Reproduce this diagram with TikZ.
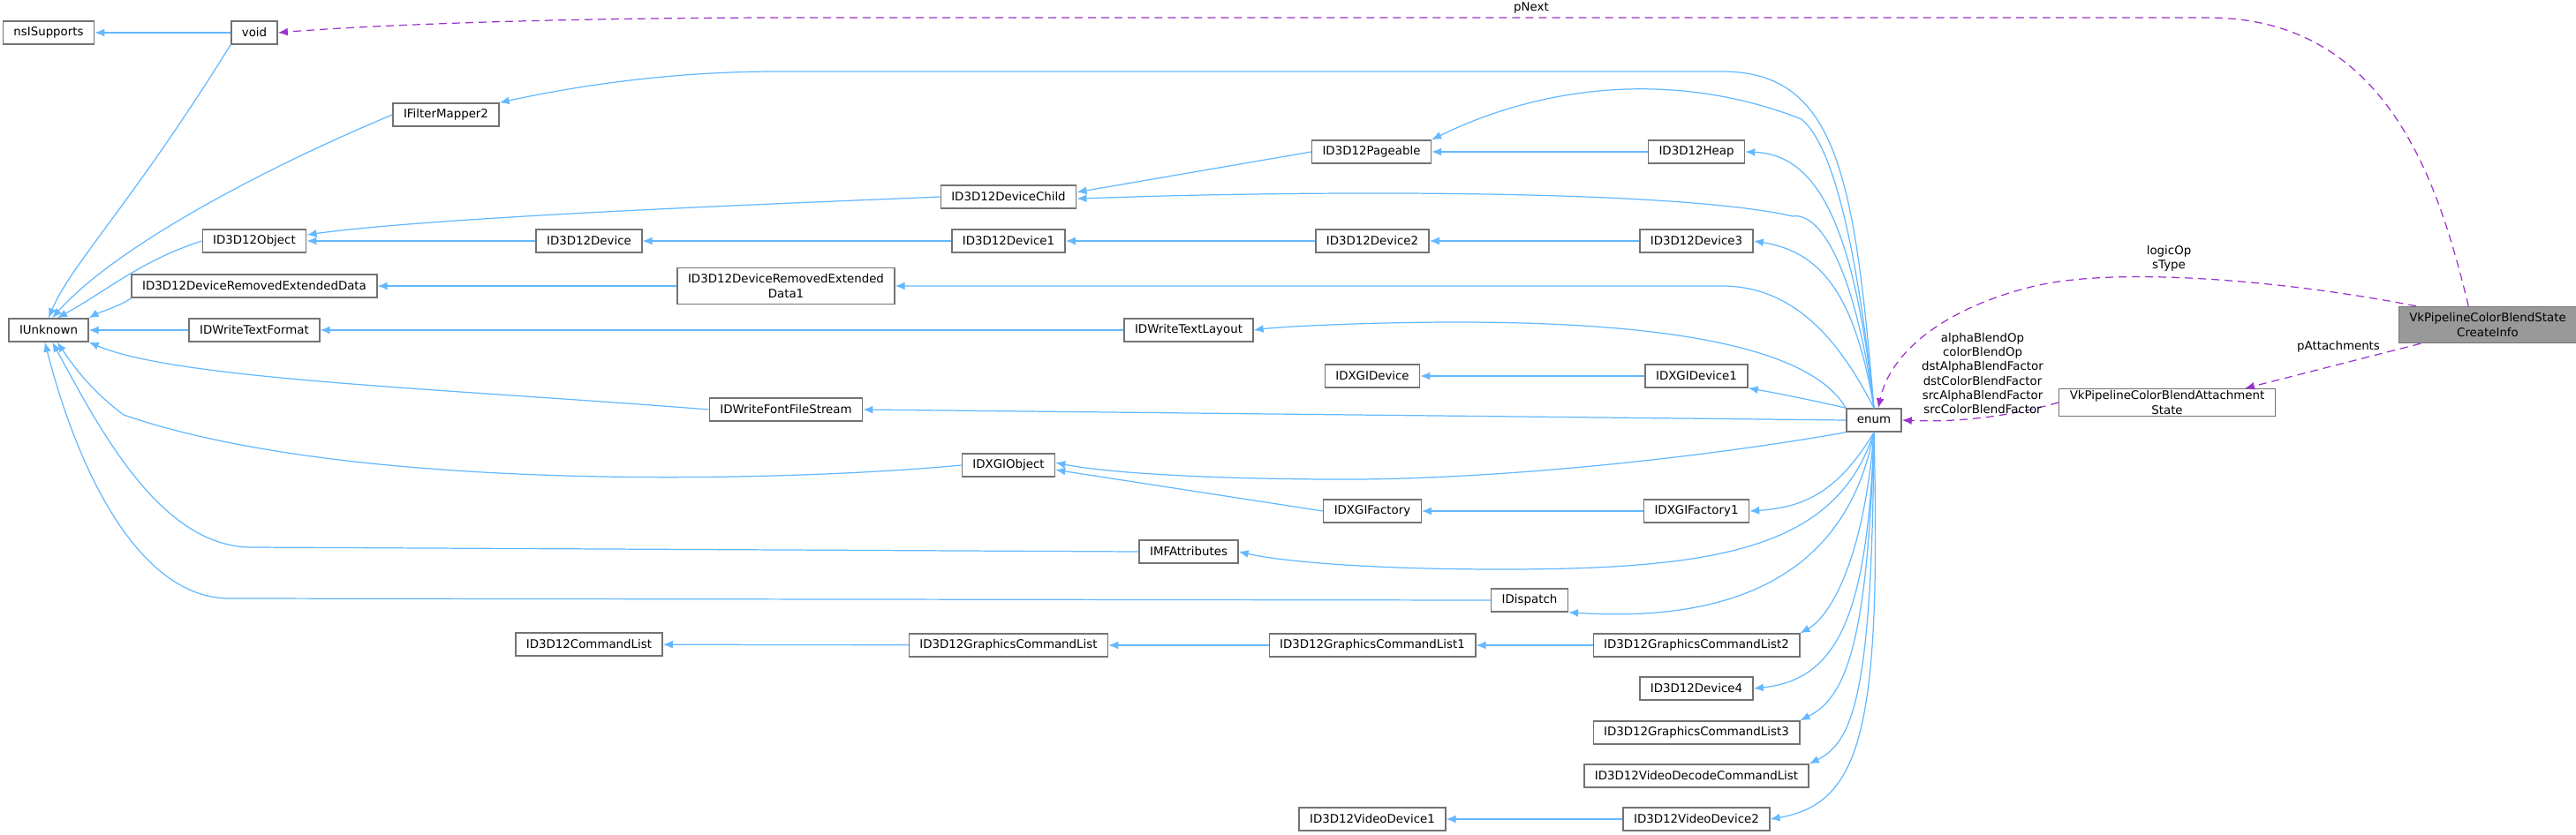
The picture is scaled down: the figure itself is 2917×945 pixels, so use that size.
\documentclass[tikz,border=0pt]{standalone}
\usepackage{fontspec}
\setmainfont{DejaVu Sans}
\usepackage{xcolor}
\usetikzlibrary{positioning,arrows.meta}
\definecolor{inhblue}{RGB}{99,184,255}
\definecolor{usepurple}{RGB}{154,50,205}
\begin{document}
\begin{tikzpicture}[x=0.01cm, y=-0.01cm,
  cls/.style={rectangle, draw=black!55, fill=white, line width=0.4pt, minimum height=0.26cm, inner xsep=0.12cm, inner ysep=0.02cm, font=\fontsize{3.8}{4.6}\selectfont, align=center},
  inh/.style={draw=inhblue, line width=0.35pt, -{Latex[length=0.11cm,width=0.09cm]}},
  use/.style={draw=usepurple, line width=0.35pt, dash pattern=on 0.09cm off 0.06cm, -{Latex[length=0.11cm,width=0.09cm]}},
  lbl/.style={font=\fontsize{3.8}{4.6}\selectfont, align=center, inner sep=0.5pt}]
\useasboundingbox (0,0) rectangle (2917,945);

\node[cls] at (55,37) (nsISupports) {nsISupports};
\node[cls] at (288,37) (void) {void};
\node[cls] at (505,130) (IFilterMapper2) {IFilterMapper2};
\node[cls] at (288,273) (ID3D12Object) {ID3D12Object};
\node[cls] at (667,273) (ID3D12Device) {ID3D12Device};
\node[cls] at (288,324) (DRED) {ID3D12DeviceRemovedExtendedData};
\node[cls, minimum height=0.41cm] at (890,324) (DRED1) {ID3D12DeviceRemovedExtended\\Data1};
\node[cls] at (55,374) (IUnknown) {IUnknown};
\node[cls] at (288,374) (IDWriteTextFormat) {IDWriteTextFormat};
\node[cls] at (890,464) (IDWriteFontFileStream) {IDWriteFontFileStream};
\node[cls] at (667,730) (ID3D12CommandList) {ID3D12CommandList};
\node[cls] at (1553,172) (ID3D12Pageable) {ID3D12Pageable};
\node[cls] at (1921,172) (ID3D12Heap) {ID3D12Heap};
\node[cls] at (1142,223) (ID3D12DeviceChild) {ID3D12DeviceChild};
\node[cls] at (1142,273) (ID3D12Device1) {ID3D12Device1};
\node[cls] at (1554,273) (ID3D12Device2) {ID3D12Device2};
\node[cls] at (1921,273) (ID3D12Device3) {ID3D12Device3};
\node[cls] at (1346,374) (IDWriteTextLayout) {IDWriteTextLayout};
\node[cls] at (1554,426) (IDXGIDevice) {IDXGIDevice};
\node[cls] at (1921,426) (IDXGIDevice1) {IDXGIDevice1};
\node[cls] at (2122,476) (enum) {enum};
\node[cls] at (1142,527) (IDXGIObject) {IDXGIObject};
\node[cls] at (1554,579) (IDXGIFactory) {IDXGIFactory};
\node[cls] at (1921,579) (IDXGIFactory1) {IDXGIFactory1};
\node[cls] at (1346,625) (IMFAttributes) {IMFAttributes};
\node[cls] at (1732,680) (IDispatch) {IDispatch};
\node[cls] at (1142,731) (GCL) {ID3D12GraphicsCommandList};
\node[cls] at (1554,731) (GCL1) {ID3D12GraphicsCommandList1};
\node[cls] at (1921,731) (GCL2) {ID3D12GraphicsCommandList2};
\node[cls] at (1921,780) (ID3D12Device4) {ID3D12Device4};
\node[cls] at (1921,830) (GCL3) {ID3D12GraphicsCommandList3};
\node[cls] at (1921,879) (VideoDecode) {ID3D12VideoDecodeCommandList};
\node[cls] at (1554,928) (VideoDevice1) {ID3D12VideoDevice1};
\node[cls] at (1921,928) (VideoDevice2) {ID3D12VideoDevice2};
\node[cls] at (2454,456) (AttachState) {VkPipelineColorBlendAttachment\\State};
\node[cls, fill=black!40, minimum height=0.41cm] at (2817,368) (CreateInfo) {VkPipelineColorBlendState\\CreateInfo};

% inheritance
\draw[inh] (void) -- (nsISupports);
\draw[inh] (void.south west) .. controls (150,230) and (80,300) .. (IUnknown.north);
\draw[inh] (IFilterMapper2.west) .. controls (300,190) and (130,280) .. ([xshift=1.2pt]IUnknown.north);
\draw[inh] (ID3D12Object.west) .. controls (160,295) and (120,330) .. ([xshift=2.8pt]IUnknown.north);
\draw[inh] (DRED.south west) .. controls (140,345) and (110,355) .. (IUnknown.north east);
\draw[inh] (IDWriteTextFormat) -- (IUnknown);
\draw[inh] (IDWriteFontFileStream.west) .. controls (500,440) and (200,430) .. (IUnknown.south east);
\draw[inh] (IDXGIObject.west) .. controls (900,545) and (400,560) .. (140,470) .. controls (100,440) and (80,410) .. ([xshift=2.8pt]IUnknown.south);
\draw[inh] (IMFAttributes.west) -- (285,620) .. controls (180,620) and (110,480) .. ([xshift=1.2pt]IUnknown.south);
\draw[inh] (IDispatch.west) -- (260,678) .. controls (160,678) and (90,540) .. ([xshift=-1.2pt]IUnknown.south);
\draw[inh] (ID3D12DeviceChild.west) .. controls (900,230) and (500,245) .. ([yshift=2pt]ID3D12Object.east);
\draw[inh] (ID3D12Device) -- (ID3D12Object);
\draw[inh] (ID3D12Device1) -- (ID3D12Device);
\draw[inh] (ID3D12Device2) -- (ID3D12Device1);
\draw[inh] (ID3D12Device3) -- (ID3D12Device2);
\draw[inh] (ID3D12Pageable.west) -- ([yshift=1.5pt]ID3D12DeviceChild.east);
\draw[inh] (ID3D12Heap) -- (ID3D12Pageable);
\draw[inh] (DRED1) -- (DRED);
\draw[inh] (IDWriteTextLayout) -- (IDWriteTextFormat);
\draw[inh] (IDXGIDevice1) -- (IDXGIDevice);
\draw[inh] (IDXGIFactory.west) -- ([yshift=-1.5pt]IDXGIObject.east);
\draw[inh] (IDXGIFactory1) -- (IDXGIFactory);
\draw[inh] (GCL) -- (ID3D12CommandList);
\draw[inh] (GCL1) -- (GCL);
\draw[inh] (GCL2) -- (GCL1);
\draw[inh] (VideoDevice2) -- (VideoDevice1);

% enum
\draw[inh] (enum.north) .. controls (2100,200) and (2080,81) .. (1950,81) -- (880,81) .. controls (750,81) and (640,100) .. (IFilterMapper2.north east);
\draw[inh] (enum.north) .. controls (2100,250) and (2070,160) .. (2040,135) .. controls (1900,80) and (1750,95) .. (ID3D12Pageable.north east);
\draw[inh] (enum.north) .. controls (2100,260) and (2060,175) .. (ID3D12Heap.east);
\draw[inh] (enum.north) .. controls (2100,300) and (2060,240) .. (2030,245) .. controls (1900,215) and (1500,215) .. ([yshift=-0.6pt]ID3D12DeviceChild.east);
\draw[inh] (enum.north) .. controls (2100,330) and (2060,285) .. (ID3D12Device3.east);
\draw[inh] (enum.north) .. controls (2090,400) and (2040,324) .. (1950,324) -- (DRED1.east);
\draw[inh] (enum.north west) .. controls (2060,410) and (1950,365) .. (1650,365) .. controls (1550,365) and (1450,370) .. (IDWriteTextLayout.east);
\draw[inh] (enum.north west) .. controls (2060,455) and (2010,445) .. (IDXGIDevice1.south east);
\draw[inh] (enum.west) -- (IDWriteFontFileStream.east);
\draw[inh] (enum.south west) .. controls (1950,515) and (1700,545) .. (1500,543) .. controls (1350,542) and (1250,535) .. ([yshift=0.8pt]IDXGIObject.east);
\draw[inh] (enum.south) .. controls (2080,560) and (2040,575) .. (IDXGIFactory1.east);
\draw[inh] (enum.south) .. controls (2080,620) and (1950,645) .. (1700,645) .. controls (1550,645) and (1450,636) .. (IMFAttributes.east);
\draw[inh] (enum.south) .. controls (2090,660) and (1950,705) .. (IDispatch.south east);
\draw[inh] (enum.south) .. controls (2110,640) and (2070,700) .. (GCL2.north east);
\draw[inh] (enum.south) .. controls (2115,700) and (2080,770) .. (ID3D12Device4.east);
\draw[inh] (enum.south) .. controls (2115,730) and (2090,790) .. (GCL3.north east);
\draw[inh] (enum.south) .. controls (2120,780) and (2100,840) .. (VideoDecode.north east);
\draw[inh] (enum.south) .. controls (2130,820) and (2110,910) .. (VideoDevice2.east);

% members
\draw[use] ([xshift=-6.2pt]CreateInfo.north) .. controls (2760,200) and (2700,20) .. (2500,20) -- (900,20) .. controls (600,20) and (400,30) .. (void.east);
\node[lbl] at (1734,9) (pNextLbl) {pNext};
\draw[use] ([xshift=-23pt]CreateInfo.north) .. controls (2600,320) and (2400,300) .. (2300,325) .. controls (2200,350) and (2140,400) .. ([xshift=1.4pt]enum.north);
\node[lbl] at (2456,293) (logicLbl) {logicOp\\sType};
\draw[use] ([xshift=-21.6pt]CreateInfo.south) -- ([xshift=25pt]AttachState.north);
\node[lbl] at (2648,393) (pAttLbl) {pAttachments};
\draw[use] (AttachState.west) .. controls (2260,476) and (2200,478) .. (enum.east);
\node[lbl] at (2245,423) (memLbl) {alphaBlendOp\\colorBlendOp\\dstAlphaBlendFactor\\dstColorBlendFactor\\srcAlphaBlendFactor\\srcColorBlendFactor};

\end{tikzpicture}
\end{document}
